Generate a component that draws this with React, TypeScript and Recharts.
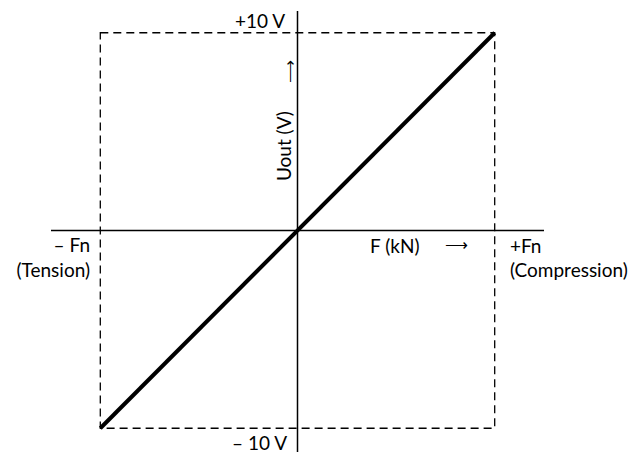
import {
  ComposedChart,
  Line,
  XAxis,
  YAxis,
  ReferenceLine,
  ReferenceArea,
  ReferenceDot,
} from 'recharts'

// force in units of nominal force Fn, output in volts
const force = [-1, 1]
const uout = [-10, 10]
const forceRange = [-1.25, 1.25]
const voltRange = [-11.2, 11.1]

const data = force.map((f, i) => ({ f, u: uout[i] }))

const FONT = 'Lato, "Open Sans", sans-serif'

// annotation texts, anchored in data coordinates
const notes = [
  { text: '– Fn', x: -1.052, y: -0.73, anchor: 'end', size: 19 },
  { text: '(Tension)', x: -1.052, y: -1.99, anchor: 'end', size: 19 },
  { text: '+Fn', x: 1.077, y: -0.78, anchor: 'start', size: 19 },
  { text: '(Compression)', x: 1.077, y: -1.99, anchor: 'start', size: 19 },
  { text: 'F (kN)', x: 0.368, y: -0.78, anchor: 'start', size: 19 },
  { text: '⟶', x: 0.748, y: -0.68, anchor: 'start', size: 16 },
  { text: '+10 V', x: -0.063, y: 10.64, anchor: 'end', size: 19 },
  { text: '– 10 V', x: -0.053, y: -10.72, anchor: 'end', size: 19 },
]

const vertNotes = [
  { text: 'Uout (V)', x: -0.073, y: 4.27, size: 19 },
  { text: '⟶', x: -0.048, y: 8.06, size: 16 },
]

export default function App() {
  return (
    <div style={{ position: 'absolute', left: 0, top: 0, background: '#fff' }}>
      <ComposedChart
        width={635}
        height={454}
        data={data}
        margin={{ top: 11, right: 91, left: 51, bottom: 2 }}
      >
        <XAxis dataKey="f" type="number" domain={forceRange} hide allowDataOverflow />
        <YAxis type="number" domain={voltRange} hide allowDataOverflow />
        <ReferenceArea
          x1={force[0]}
          x2={force[1]}
          y1={uout[0]}
          y2={uout[1]}
          fill="none"
          fillOpacity={0}
          stroke="#000"
          strokeWidth={1.3}
          strokeDasharray="8 5"
        />
        <ReferenceLine y={0} stroke="#000" strokeWidth={1.5} />
        <ReferenceLine x={0} stroke="#000" strokeWidth={1.5} />
        <Line
          dataKey="u"
          type="linear"
          stroke="#000"
          strokeWidth={4}
          dot={false}
          isAnimationActive={false}
        />
        {notes.map((n, i) => (
          <ReferenceDot
            key={`n-${i}`}
            x={n.x}
            y={n.y}
            r={0}
            shape={(p: any) => (
              <text
                x={p.cx}
                y={p.cy}
                textAnchor={n.anchor as any}
                dominantBaseline="central"
                fontFamily={FONT}
                fontSize={n.size}
                fill="#000"
              >
                {n.text}
              </text>
            )}
          />
        ))}
        {vertNotes.map((n, i) => (
          <ReferenceDot
            key={`v-${i}`}
            x={n.x}
            y={n.y}
            r={0}
            shape={(p: any) => (
              <text
                x={p.cx}
                y={p.cy}
                textAnchor="middle"
                dominantBaseline="central"
                fontFamily={FONT}
                fontSize={n.size}
                fill="#000"
                transform={`rotate(-90 ${p.cx} ${p.cy})`}
              >
                {n.text}
              </text>
            )}
          />
        ))}
      </ComposedChart>
    </div>
  )
}
